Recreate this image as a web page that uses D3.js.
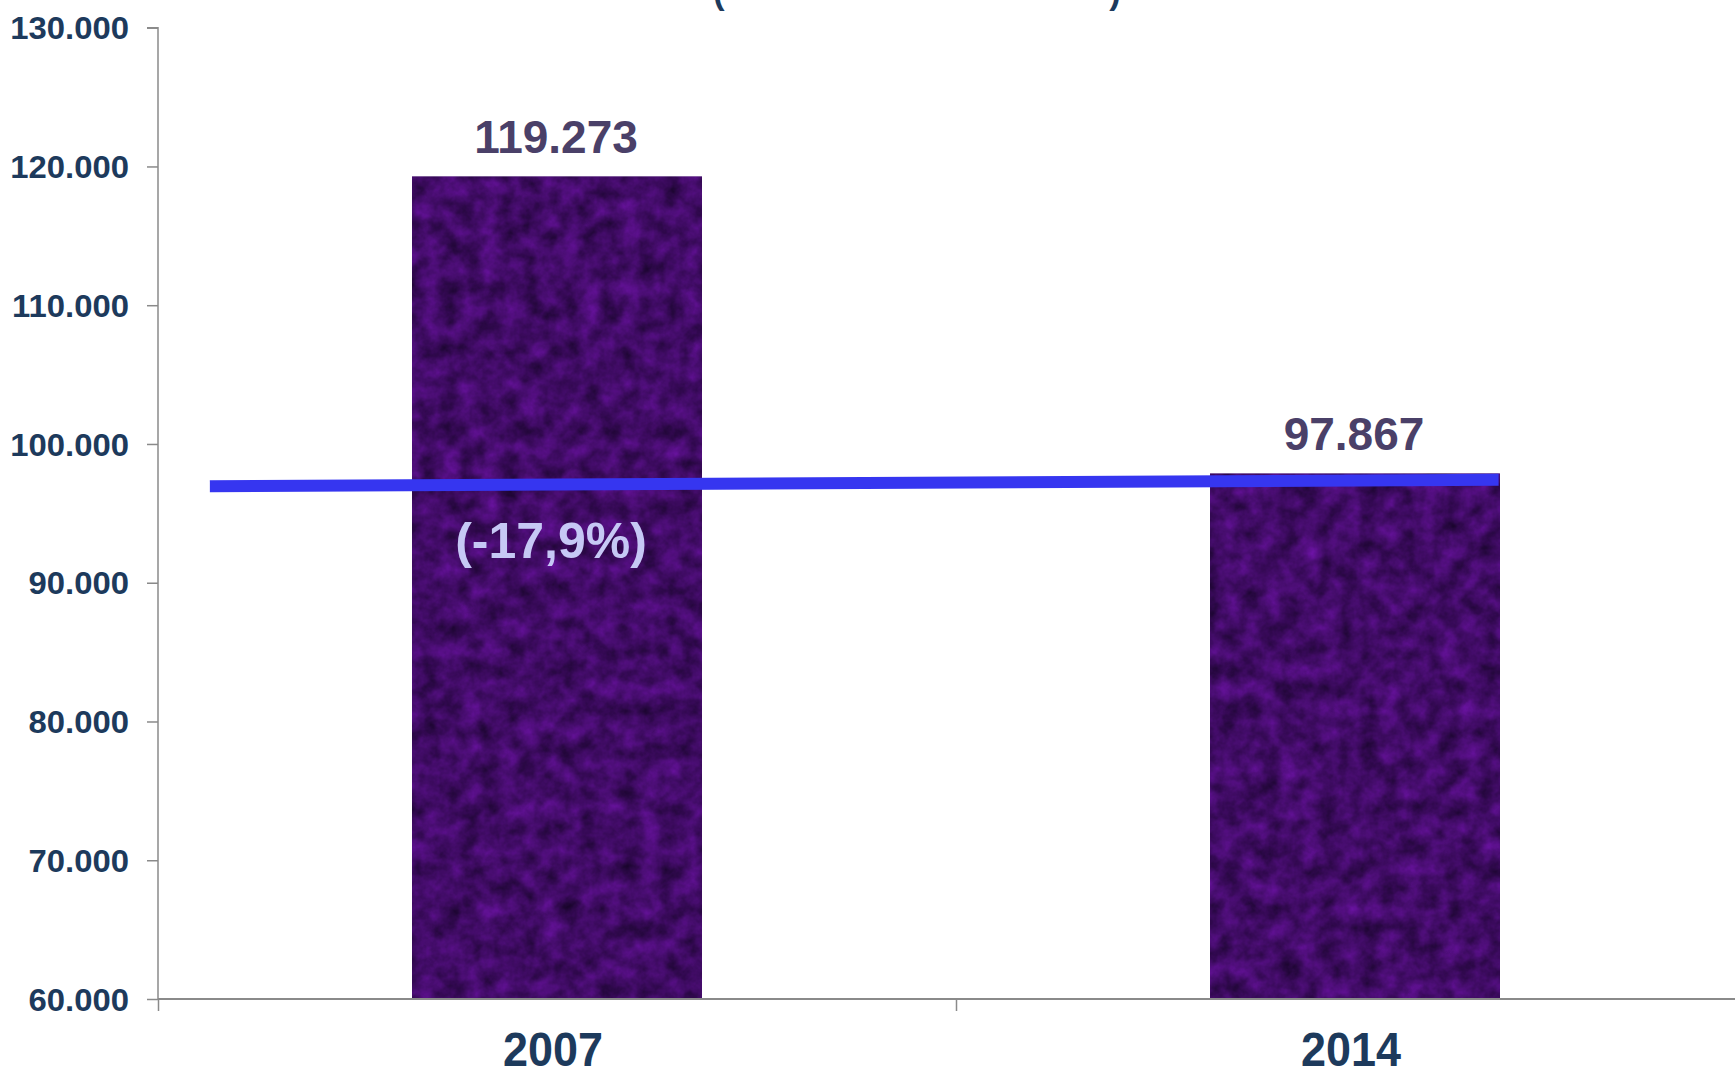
<!DOCTYPE html>
<html>
<head>
<meta charset="utf-8">
<script src="https://cdn.jsdelivr.net/npm/d3@7/dist/d3.min.js"></script>
<style>
  html, body { margin: 0; padding: 0; background: #ffffff; overflow: hidden; }
  svg { display: block; }
  text { font-family: "Liberation Sans", Arial, sans-serif; font-weight: bold; }
</style>
</head>
<body>
<script>
// ---- data ----
const categories = ["2007", "2014"];
const values = [119273, 97867];
const valueLabels = ["119.273", "97.867"];
const yTicks = [60000, 70000, 80000, 90000, 100000, 110000, 120000, 130000];
const yTickLabels = ["60.000", "70.000", "80.000", "90.000", "100.000", "110.000", "120.000", "130.000"];
const changeLabel = "(-17,9%)";
// trend line: positions in category-index units and values
const trendX = [-0.435, 1.18];
const trendY = [96950, 97420];

// ---- layout ----
const W = 1735, H = 1078;
const svg = d3.select("body").append("svg").attr("width", W).attr("height", H);

const x0 = 158, x1 = 1754, yTop = 27.7, yBot = 999;
const x = d3.scaleBand().domain(categories).range([x0, x1]).paddingInner(0).paddingOuter(0);
const y = d3.scaleLinear().domain([60000, 130000]).range([yBot, yTop]);
const xi = d3.scaleLinear().domain([0, 1]).range([x(categories[0]) + x.bandwidth() / 2, x(categories[1]) + x.bandwidth() / 2]);
const barW = x.bandwidth() * 0.3634;

// texture
const defs = svg.append("defs");
const f = defs.append("filter").attr("id", "tex").attr("x", 0).attr("y", 0).attr("width", 1).attr("height", 1)
  .attr("color-interpolation-filters", "sRGB");
f.append("feTurbulence").attr("type", "fractalNoise").attr("baseFrequency", "0.05").attr("numOctaves", 4).attr("seed", 11).attr("result", "n");
f.append("feColorMatrix").attr("in", "n").attr("type", "matrix")
  .attr("values", "0.40 0 0 0 0.06  0.07 0 0 0 0.01  0.58 0 0 0 0.11  0 0 0 0 1").attr("result", "c");
f.append("feComposite").attr("in", "c").attr("in2", "SourceGraphic").attr("operator", "in");

const bars = svg.append("g");
categories.forEach((c, i) => {
  const cx = x(c) + x.bandwidth() / 2;
  bars.append("rect")
    .attr("x", cx - barW / 2).attr("y", y(values[i]))
    .attr("width", barW).attr("height", y(60000) - y(values[i]))
    .attr("fill", "#3c0e6a");
  bars.append("rect")
    .attr("x", cx - barW / 2).attr("y", y(values[i]))
    .attr("width", barW).attr("height", y(60000) - y(values[i]))
    .attr("fill", "#3c0e6a").attr("filter", "url(#tex)").attr("opacity", 0.85);
});

// axes
const yAxis = d3.axisLeft(y).tickValues(yTicks).tickFormat((d, i) => yTickLabels[i]).tickSize(11).tickPadding(18);
const gy = svg.append("g").attr("transform", `translate(${x0},0)`).call(yAxis);
gy.select(".domain").attr("stroke", "#8a8a8a").attr("stroke-width", 1.5).attr("d", `M-11,${yTop}H0V${yBot}`);
gy.selectAll(".tick line").attr("stroke", "#8a8a8a").attr("stroke-width", 1.5);
gy.selectAll(".tick text").attr("fill", "#1d3a5c").style("font-size", "31px").style("font-weight", "bold")
  .style("font-family", "'Liberation Sans', Arial, sans-serif").attr("dy", "0.36em")
  .attr("textLength", function () { return this.getComputedTextLength() * 1.06; }).attr("lengthAdjust", "spacingAndGlyphs");

const xAxis = d3.axisBottom(d3.scaleLinear().domain([x0, x1]).range([x0, x1]))
  .tickValues([x0, x(categories[1]), x1]).tickFormat("").tickSize(12);
const gx = svg.append("g").attr("transform", `translate(0,${yBot})`).call(xAxis);
gx.select(".domain").attr("stroke", "#8a8a8a").attr("stroke-width", 1.8).attr("d", `M${x0},0H${x1}`);
gx.selectAll(".tick line").attr("stroke", "#8a8a8a").attr("stroke-width", 1.5);

// category labels
svg.append("g").selectAll("text").data(categories).join("text")
  .attr("x", d => x(d) + x.bandwidth() / 2 - 4)
  .attr("y", 1066)
  .attr("text-anchor", "middle")
  .attr("fill", "#1d3a5c")
  .style("font-size", "49px")
  .attr("textLength", 100).attr("lengthAdjust", "spacingAndGlyphs")
  .text(d => d);

// value labels
svg.append("g").selectAll("text").data(categories).join("text")
  .attr("x", d => x(d) + x.bandwidth() / 2 - 1)
  .attr("y", (d, i) => y(values[i]) - 24)
  .attr("text-anchor", "middle")
  .attr("fill", "#4a4068")
  .style("font-size", "46px")
  .text((d, i) => valueLabels[i]);

// trend line
svg.append("path")
  .attr("d", d3.line().x(d => xi(d[0])).y(d => y(d[1]))(trendX.map((t, i) => [t, trendY[i]])))
  .attr("stroke", "#3636f0").attr("stroke-width", 12).attr("fill", "none");

// change label
svg.append("text")
  .attr("x", xi(0) - 6).attr("y", 558)
  .attr("text-anchor", "middle")
  .attr("fill", "#c6c8f5")
  .style("font-size", "50px")
  .text(changeLabel);

// clipped title (only bottom of parentheses visible)
svg.append("text").attr("x", 719).attr("y", 4).attr("text-anchor", "middle").attr("fill", "#1d3a5c").style("font-size", "34px").text("(");
svg.append("text").attr("x", 1115).attr("y", 4).attr("text-anchor", "middle").attr("fill", "#1d3a5c").style("font-size", "34px").text(")");
</script>
</body>
</html>
